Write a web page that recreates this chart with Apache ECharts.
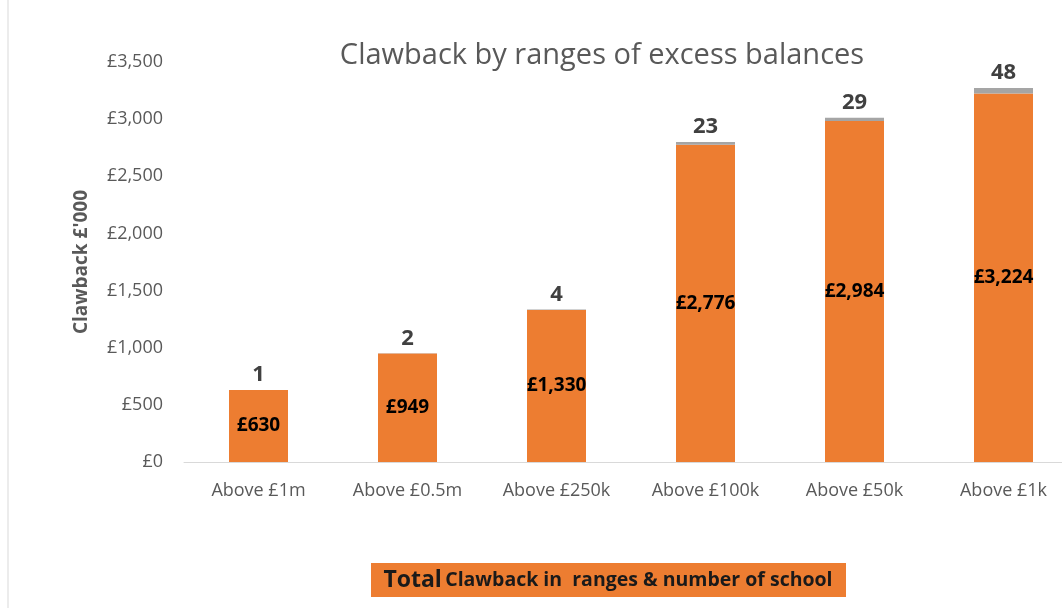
<!DOCTYPE html>
<html><head><meta charset="utf-8">
<script src="https://cdn.jsdelivr.net/npm/echarts@6/dist/echarts.min.js"></script>
<style>html,body{margin:0;padding:0;background:#fff;overflow:hidden}#c{width:1090px;height:608px}</style>
</head><body><div id="c"></div>
<script>
const categories = ['Above £1m','Above £0.5m','Above £250k','Above £100k','Above £50k','Above £1k'];
const clawback = [630, 949, 1330, 2776, 2984, 3224];
const schools = [1, 2, 4, 23, 29, 48];
const yTicks = {min: 0, max: 3500, interval: 500};

const chart = echarts.init(document.getElementById('c'));
const font = '"Open Sans", "Noto Sans", sans-serif';
chart.setOption({
  animation: false,
  title: {
    text: 'Clawback by ranges of excess balances',
    left: 597, top: 36, textAlign: 'center',
    textStyle: {fontFamily: font, fontSize: 29, fontWeight: 'normal', color: '#595959'}
  },
  grid: {left: 184, top: 62, width: 894, height: 400, containLabel: false},
  xAxis: {
    type: 'category', data: categories,
    axisLine: {lineStyle: {color: '#D9D9D9', width: 1}},
    axisTick: {show: false},
    axisLabel: {fontFamily: font, fontSize: 18, color: '#595959', margin: 20}
  },
  yAxis: {
    type: 'value', min: yTicks.min, max: yTicks.max, interval: yTicks.interval,
    name: "Clawback £'000", nameLocation: 'middle', nameGap: 93,
    nameTextStyle: {fontFamily: font, fontSize: 19, fontWeight: 'bold', color: '#595959'},
    axisLine: {show: false}, axisTick: {show: false}, splitLine: {show: false},
    axisLabel: {fontFamily: font, fontSize: 18, color: '#595959', margin: 21,
      formatter: v => '£' + v.toLocaleString('en-GB')}
  },
  series: [
    {
      type: 'bar', stack: 's', data: clawback, barWidth: 59,
      itemStyle: {color: '#ED7D31'},
      label: {show: true, position: 'inside', fontFamily: font, fontSize: 19, fontWeight: 'bold', color: '#000',
        formatter: p => '£' + p.value.toLocaleString('en-GB')}
    },
    {
      type: 'bar', stack: 's', data: schools, barWidth: 59,
      itemStyle: {color: '#A5A5A5'},
      label: {show: true, position: 'top', distance: 4, fontFamily: font, fontSize: 22, fontWeight: 'bold', color: '#404040'}
    }
  ],
  graphic: [
    {type: 'line', shape: {x1: 8, y1: 0, x2: 8, y2: 608}, style: {stroke: '#D9D9D9', lineWidth: 1}},
    {type: 'rect', shape: {x: 371, y: 563, width: 475, height: 34}, style: {fill: '#ED7D31'}},
    {type: 'text', x: 608, y: 580,
      style: {
        text: '{a|Total} {b|Clawback in  ranges & number of school}',
        align: 'center', verticalAlign: 'middle',
        rich: {
          a: {fontFamily: font, fontSize: 23, fontWeight: 'bold', fill: '#1a1a1a'},
          b: {fontFamily: font, fontSize: 19.5, fontWeight: 'bold', fill: '#1a1a1a'}
        }
      }
    }
  ]
});
</script></body></html>
